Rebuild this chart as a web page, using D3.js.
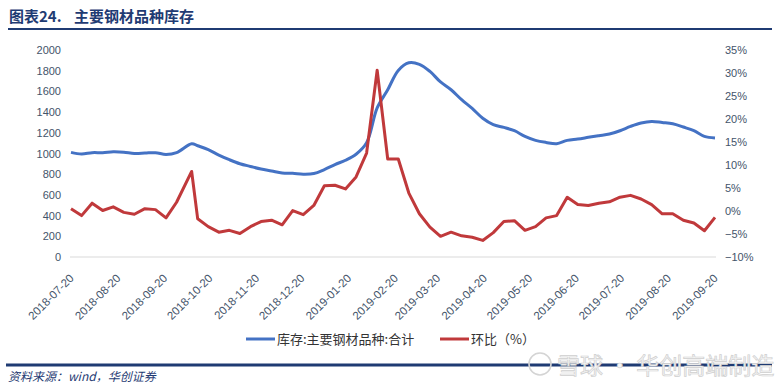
<!DOCTYPE html>
<html>
<head>
<meta charset="utf-8">
<script src="https://cdn.jsdelivr.net/npm/d3@7/dist/d3.min.js"></script>
<style>
  body { margin: 0; background: #fff; }
  svg { display: block; }
</style>
</head>
<body>
<div id="chart"></div>
<script>
// weekly dates (the holiday week is reported on 10-08)
const dates = [
  "2018-07-20","2018-07-27","2018-08-03","2018-08-10","2018-08-17","2018-08-24","2018-08-31",
  "2018-09-07","2018-09-14","2018-09-21","2018-09-28","2018-10-08","2018-10-12","2018-10-19",
  "2018-10-26","2018-11-02","2018-11-09","2018-11-16","2018-11-23","2018-11-30","2018-12-07",
  "2018-12-14","2018-12-21","2018-12-28","2019-01-04","2019-01-11","2019-01-18","2019-01-25",
  "2019-02-01","2019-02-08","2019-02-15","2019-02-22","2019-03-01","2019-03-08","2019-03-15",
  "2019-03-22","2019-03-29","2019-04-05","2019-04-12","2019-04-19","2019-04-26","2019-05-03",
  "2019-05-10","2019-05-17","2019-05-24","2019-05-31","2019-06-07","2019-06-14","2019-06-21",
  "2019-06-28","2019-07-05","2019-07-12","2019-07-19","2019-07-26","2019-08-02","2019-08-09",
  "2019-08-16","2019-08-23","2019-08-30","2019-09-06","2019-09-13","2019-09-20"
];

// 库存:主要钢材品种:合计 (万吨)
const stock = [
  1011, 995, 1008, 1008, 1017, 1013, 1001, 1004, 1008, 991, 1008, 1095, 1075, 1037,
  985, 940, 901, 875, 850, 831, 811, 808, 800, 806, 845, 893, 935, 993,
  1104, 1440, 1616, 1803, 1877, 1862, 1793, 1691, 1616, 1520, 1435, 1340, 1278, 1252,
  1220, 1165, 1127, 1107, 1095, 1127, 1140, 1156, 1172, 1188, 1220, 1262, 1295, 1310,
  1300, 1288, 1256, 1220, 1165, 1150
];

// 环比 (%)
const change = [
  0.5, -1.0, 1.7, 0.1, 0.9, -0.3, -0.7, 0.5, 0.3, -1.5, 1.9, 8.6, -1.7, -3.4,
  -4.6, -4.2, -4.9, -3.4, -2.3, -2.0, -3.0, 0.1, -0.8, 1.2, 5.5, 5.6, 4.8, 7.4,
  12.6, 30.6, 11.3, 11.3, 3.9, -0.6, -3.5, -5.5, -4.6, -5.4, -5.7, -6.4, -4.7, -2.3,
  -2.1, -4.2, -3.4, -1.5, -1.0, 3.0, 1.4, 1.2, 1.7, 2.0, 3.0, 3.4, 2.6, 1.4,
  -0.6, -0.6, -2.0, -2.6, -4.3, -1.4
];

const leftTicks = [0, 200, 400, 600, 800, 1000, 1200, 1400, 1600, 1800, 2000];
const rightTicks = [-10, -5, 0, 5, 10, 15, 20, 25, 30, 35];
const xTicks = [
  "2018-07-20","2018-08-20","2018-09-20","2018-10-20","2018-11-20","2018-12-20","2019-01-20",
  "2019-02-20","2019-03-20","2019-04-20","2019-05-20","2019-06-20","2019-07-20","2019-08-20","2019-09-20"
];

const seriesNames = ["库存:主要钢材品种:合计", "环比（%）"];

const width = 780, height = 391;
const parse = d3.timeParse("%Y-%m-%d");
const fmt = d3.timeFormat("%Y-%m-%d");

const navy = "#1f3b73";
const tickColor = "#44546a";
const blue = "#4472c4";
const red = "#c0393b";

const svg = d3.select("#chart").append("svg")
  .attr("width", width)
  .attr("height", height);

// title + rules
const title = svg.append("text")
  .attr("x", 9).attr("y", 22)
  .style("font-family", "'Noto Sans CJK SC', sans-serif")
  .style("font-weight", "bold")
  .style("font-size", "15px")
  .style("fill", navy);
title.append("tspan").text("图表24.");
title.append("tspan").attr("x", 74).text("主要钢材品种库存");

svg.append("line")
  .attr("x1", 8).attr("x2", 772).attr("y1", 29).attr("y2", 29)
  .style("stroke", navy).style("stroke-width", 2);

svg.append("line")
  .attr("x1", 6).attr("x2", 772).attr("y1", 365).attr("y2", 365)
  .style("stroke", navy).style("stroke-width", 3);

svg.append("text")
  .attr("x", 8).attr("y", 381)
  .style("font-family", "'Noto Sans CJK SC', serif")
  .style("font-style", "italic")
  .style("font-size", "12px")
  .style("fill", navy)
  .text("资料来源：wind，华创证券");

// scales
const x = d3.scaleTime()
  .domain([parse("2018-07-20"), parse("2019-09-20")])
  .range([71, 715]);

const yL = d3.scaleLinear().domain([0, 2000]).range([257, 50]);
const yR = d3.scaleLinear().domain([-10, 35]).range([257, 50]);

// baseline
svg.append("line")
  .attr("x1", 70).attr("x2", 716)
  .attr("y1", yL(0)).attr("y2", yL(0))
  .style("stroke", "#d9d9d9").style("stroke-width", 1);

// left axis
const leftAxis = d3.axisLeft(yL).tickValues(leftTicks).tickSize(0).tickPadding(0)
  .tickFormat(d3.format("d"));
const gL = svg.append("g").attr("transform", "translate(61,0)").call(leftAxis);
gL.select(".domain").remove();
gL.selectAll("text")
  .style("font-family", "'Liberation Sans', Arial, sans-serif")
  .style("font-size", "11px")
  .style("fill", tickColor);

// right axis
const rightAxis = d3.axisRight(yR).tickValues(rightTicks).tickSize(0).tickPadding(0)
  .tickFormat(d => (d < 0 ? "\u2212" + Math.abs(d) : d) + "%");
const gR = svg.append("g").attr("transform", "translate(725,0)").call(rightAxis);
gR.select(".domain").remove();
gR.selectAll("text")
  .style("font-family", "'Liberation Sans', Arial, sans-serif")
  .style("font-size", "11px")
  .style("fill", tickColor);

// x axis, rotated labels
const xAxis = d3.axisBottom(x).tickValues(xTicks.map(parse)).tickSize(0).tickFormat(fmt);
const gX = svg.append("g").attr("transform", `translate(0,${yL(0)})`).call(xAxis);
gX.select(".domain").remove();
gX.selectAll("text")
  .attr("text-anchor", "end")
  .attr("dy", null)
  .attr("y", 0)
  .attr("transform", "translate(3,22) rotate(-45)")
  .style("font-family", "'Liberation Sans', Arial, sans-serif")
  .style("font-size", "11.5px")
  .style("fill", tickColor);

// data rows
const rows = dates.map((d, i) => ({ date: parse(d), stock: stock[i], change: change[i] }));

const stockLine = d3.line()
  .x(d => x(d.date))
  .y(d => yL(d.stock))
  .curve(d3.curveCatmullRom.alpha(0.5));

const changeLine = d3.line()
  .x(d => x(d.date))
  .y(d => yR(d.change));

svg.append("path")
  .datum(rows)
  .attr("d", stockLine)
  .style("fill", "none")
  .style("stroke", blue)
  .style("stroke-width", 3)
  .style("stroke-linejoin", "round");

svg.append("path")
  .datum(rows)
  .attr("d", changeLine)
  .style("fill", "none")
  .style("stroke", red)
  .style("stroke-width", 3)
  .style("stroke-linejoin", "round");

// legend
const legend = svg.append("g").attr("transform", "translate(246,339)");
const items = [
  { name: seriesNames[0], color: blue, x: 0 },
  { name: seriesNames[1], color: red, x: 194 }
];
items.forEach(it => {
  legend.append("line")
    .attr("x1", it.x).attr("x2", it.x + 29)
    .attr("y1", 0).attr("y2", 0)
    .style("stroke", it.color).style("stroke-width", 3);
  legend.append("text")
    .attr("x", it.x + 31).attr("y", 4.5)
    .style("font-family", "'Noto Sans CJK SC', sans-serif")
    .style("font-size", "13px")
    .style("fill", "#333")
    .text(it.name);
});

// watermark
const wm = svg.append("g").attr("transform", "translate(540,364)");
wm.append("circle")
  .attr("r", 11)
  .style("fill", "none").style("stroke", "#d4d4d4").style("stroke-width", 1.6);
wm.append("text")
  .attr("x", 17).attr("y", 10)
  .style("font-family", "'Noto Sans CJK SC', sans-serif")
  .style("font-size", "23px")
  .style("fill", "#f6f6f6")
  .style("stroke", "#cfcfcf")
  .style("stroke-width", 0.7)
  .text("雪球 · 华创高端制造");
</script>
</body>
</html>
